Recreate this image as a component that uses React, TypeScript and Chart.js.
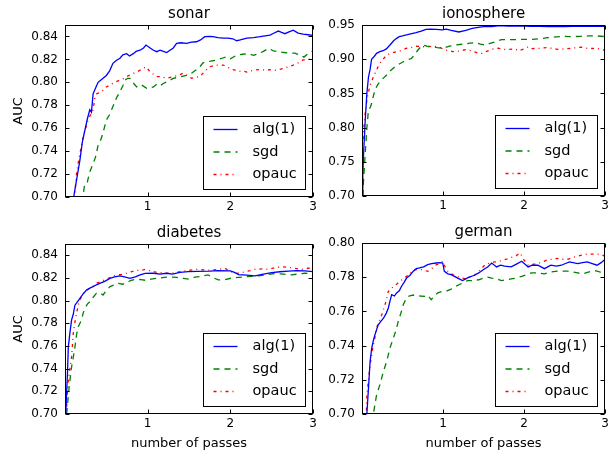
import React, { useEffect, useRef } from "react";
import { Chart, registerables } from "chart.js";
Chart.register(...registerables);

const FONT = "'DejaVu Sans', 'Liberation Sans', sans-serif";

const seriesNames = ["alg(1)", "sgd", "opauc"];
const seriesColors = ["#0000ff", "#008000", "#ff0000"];
const seriesDashes: number[][] = [[], [6, 5], [3, 4, 1, 4]];

const xTicks = [0, 1, 2, 3];
const ticks02 = [0.7, 0.72, 0.74, 0.76, 0.78, 0.8, 0.82, 0.84];
const ticks05 = [0.7, 0.75, 0.8, 0.85, 0.9, 0.95];
const ticksGerman = [0.7, 0.72, 0.74, 0.76, 0.78, 0.8];

const sonarAlg = [[0.10,0.695],[0.11,0.702],[0.14,0.715],[0.18,0.732],[0.21,0.748],[0.24,0.758],[0.27,0.768],[0.30,0.776],[0.32,0.774],[0.34,0.790],[0.37,0.795],[0.40,0.800],[0.45,0.803],[0.50,0.806],[0.54,0.810],[0.58,0.8166],[0.62,0.819],[0.665,0.821],[0.70,0.824],[0.746,0.825],[0.78,0.823],[0.826,0.825],[0.86,0.827],[0.907,0.828],[0.95,0.830],[0.98,0.8325],[1.03,0.830],[1.07,0.828],[1.11,0.8267],[1.15,0.828],[1.19,0.827],[1.23,0.826],[1.27,0.828],[1.31,0.830],[1.35,0.834],[1.40,0.8345],[1.47,0.834],[1.53,0.835],[1.59,0.8354],[1.64,0.837],[1.69,0.8398],[1.75,0.840],[1.79,0.8398],[1.85,0.839],[1.915,0.8385],[1.97,0.8385],[2.03,0.838],[2.077,0.8363],[2.12,0.837],[2.20,0.8385],[2.28,0.839],[2.36,0.8398],[2.42,0.8405],[2.48,0.8412],[2.53,0.843],[2.58,0.8447],[2.62,0.8435],[2.66,0.8424],[2.71,0.844],[2.76,0.8455],[2.82,0.843],[2.88,0.842],[2.94,0.8415],[3.0,0.841]];
const sonarSgd = [[0.21,0.695],[0.22,0.702],[0.24,0.712],[0.27,0.713],[0.30,0.722],[0.34,0.729],[0.37,0.735],[0.40,0.745],[0.42,0.747],[0.46,0.756],[0.50,0.767],[0.54,0.772],[0.58,0.779],[0.62,0.786],[0.665,0.792],[0.70,0.797],[0.726,0.802],[0.76,0.8035],[0.786,0.8035],[0.82,0.800],[0.867,0.796],[0.92,0.798],[0.988,0.7948],[1.03,0.795],[1.07,0.796],[1.11,0.7985],[1.15,0.797],[1.19,0.799],[1.25,0.801],[1.31,0.8035],[1.38,0.8045],[1.47,0.806],[1.53,0.808],[1.59,0.811],[1.63,0.8135],[1.67,0.817],[1.71,0.818],[1.76,0.8185],[1.835,0.8195],[1.90,0.821],[1.956,0.8223],[2.00,0.8205],[2.08,0.8238],[2.15,0.8245],[2.22,0.825],[2.28,0.8235],[2.34,0.825],[2.40,0.827],[2.46,0.8296],[2.52,0.8275],[2.58,0.8267],[2.65,0.826],[2.72,0.8255],[2.78,0.8255],[2.84,0.8238],[2.89,0.822],[2.94,0.825],[3.0,0.8275]];
const sonarOpauc = [[0.11,0.698],[0.12,0.7035],[0.14,0.721],[0.16,0.730],[0.18,0.738],[0.20,0.745],[0.22,0.7526],[0.25,0.760],[0.28,0.767],[0.31,0.772],[0.34,0.776],[0.36,0.786],[0.383,0.790],[0.42,0.791],[0.46,0.793],[0.50,0.796],[0.544,0.7977],[0.60,0.800],[0.665,0.802],[0.70,0.803],[0.746,0.805],[0.80,0.807],[0.867,0.809],[0.92,0.811],[0.98,0.8136],[1.03,0.809],[1.07,0.807],[1.11,0.805],[1.17,0.805],[1.23,0.8035],[1.31,0.805],[1.37,0.806],[1.43,0.808],[1.48,0.806],[1.53,0.8035],[1.58,0.8045],[1.63,0.805],[1.67,0.808],[1.71,0.811],[1.754,0.8136],[1.80,0.8145],[1.835,0.815],[1.915,0.815],[1.97,0.813],[2.036,0.811],[2.10,0.8095],[2.15,0.810],[2.2,0.809],[2.28,0.8105],[2.36,0.8113],[2.42,0.8105],[2.48,0.811],[2.55,0.8105],[2.64,0.812],[2.70,0.8135],[2.76,0.815],[2.82,0.817],[2.88,0.8195],[2.94,0.820],[3.0,0.8209]];

const ionoAlg = [[0.0,0.70],[0.01,0.73],[0.02,0.763],[0.04,0.811],[0.06,0.850],[0.08,0.874],[0.10,0.885],[0.118,0.900],[0.15,0.904],[0.18,0.9086],[0.22,0.911],[0.26,0.9124],[0.30,0.915],[0.345,0.9208],[0.39,0.927],[0.427,0.9305],[0.46,0.933],[0.50,0.934],[0.549,0.9354],[0.60,0.937],[0.667,0.9387],[0.73,0.941],[0.79,0.9437],[0.85,0.944],[0.915,0.9437],[0.99,0.943],[1.04,0.944],[1.10,0.942],[1.195,0.9398],[1.28,0.942],[1.36,0.945],[1.45,0.947],[1.5,0.9475],[1.6,0.9478],[1.7,0.949],[1.8,0.9485],[1.89,0.9488],[2.0,0.9485],[2.09,0.948],[2.2,0.948],[2.29,0.9475],[2.4,0.948],[2.5,0.9478],[2.6,0.948],[2.7,0.9482],[2.8,0.948],[2.9,0.948],[3.0,0.948]];
const ionoSgd = [[0.01,0.70],[0.02,0.725],[0.04,0.762],[0.06,0.800],[0.08,0.826],[0.10,0.829],[0.12,0.8355],[0.14,0.846],[0.16,0.855],[0.19,0.862],[0.22,0.867],[0.26,0.872],[0.305,0.877],[0.35,0.883],[0.406,0.889],[0.46,0.893],[0.51,0.8963],[0.56,0.899],[0.61,0.901],[0.65,0.907],[0.69,0.9134],[0.75,0.921],[0.80,0.919],[0.874,0.918],[0.93,0.917],[1.0,0.916],[1.08,0.919],[1.155,0.9208],[1.25,0.922],[1.33,0.9235],[1.4,0.9242],[1.46,0.922],[1.52,0.9208],[1.6,0.924],[1.66,0.926],[1.72,0.9287],[1.845,0.9285],[1.95,0.929],[2.09,0.929],[2.2,0.930],[2.29,0.9315],[2.4,0.9325],[2.5,0.9335],[2.6,0.933],[2.7,0.9335],[2.8,0.934],[2.9,0.934],[3.0,0.933]];
const ionoOpauc = [[0.0,0.748],[0.01,0.775],[0.02,0.7965],[0.04,0.822],[0.06,0.840],[0.08,0.852],[0.10,0.862],[0.13,0.871],[0.16,0.879],[0.19,0.887],[0.22,0.894],[0.26,0.900],[0.305,0.906],[0.36,0.909],[0.427,0.911],[0.49,0.913],[0.55,0.916],[0.61,0.917],[0.67,0.919],[0.73,0.9185],[0.79,0.918],[0.87,0.919],[0.955,0.918],[1.0,0.9145],[1.05,0.913],[1.12,0.911],[1.2,0.912],[1.28,0.914],[1.36,0.912],[1.44,0.9086],[1.48,0.9086],[1.53,0.911],[1.6,0.9145],[1.68,0.916],[1.77,0.914],[1.89,0.915],[1.93,0.9124],[2.0,0.915],[2.05,0.918],[2.09,0.9155],[2.2,0.916],[2.29,0.917],[2.41,0.9145],[2.5,0.915],[2.58,0.916],[2.66,0.917],[2.7,0.9175],[2.8,0.9155],[2.9,0.916],[2.98,0.9135],[3.0,0.914]];

const diabetesAlg = [[0.01,0.70],[0.02,0.72],[0.03,0.7359],[0.04,0.759],[0.06,0.772],[0.08,0.783],[0.10,0.788],[0.12,0.796],[0.15,0.799],[0.18,0.802],[0.22,0.806],[0.26,0.8094],[0.30,0.811],[0.34,0.8124],[0.38,0.814],[0.42,0.8153],[0.48,0.817],[0.544,0.8197],[0.60,0.821],[0.665,0.8218],[0.72,0.821],[0.786,0.8197],[0.85,0.821],[0.907,0.8227],[0.97,0.824],[1.07,0.8242],[1.15,0.8235],[1.23,0.8242],[1.3,0.8235],[1.39,0.825],[1.49,0.8256],[1.6,0.8258],[1.75,0.826],[1.85,0.8265],[2.0,0.8262],[2.05,0.825],[2.1,0.823],[2.2,0.8225],[2.3,0.8218],[2.4,0.8235],[2.5,0.8247],[2.6,0.8255],[2.7,0.826],[2.8,0.8265],[2.9,0.8262],[3.0,0.8256]];
const diabetesSgd = [[0.02,0.70],[0.05,0.724],[0.08,0.7417],[0.10,0.750],[0.12,0.759],[0.14,0.770],[0.16,0.777],[0.20,0.783],[0.22,0.789],[0.24,0.793],[0.27,0.797],[0.30,0.799],[0.34,0.803],[0.38,0.8065],[0.42,0.807],[0.46,0.805],[0.50,0.809],[0.544,0.8124],[0.60,0.814],[0.645,0.8153],[0.70,0.8145],[0.746,0.816],[0.80,0.818],[0.867,0.8189],[0.92,0.8185],[0.97,0.818],[1.04,0.819],[1.11,0.8197],[1.2,0.8205],[1.27,0.821],[1.35,0.8205],[1.43,0.8197],[1.5,0.819],[1.57,0.8207],[1.65,0.8215],[1.73,0.8227],[1.8,0.820],[1.855,0.8183],[1.93,0.8185],[2.02,0.820],[2.1,0.8205],[2.18,0.821],[2.26,0.8215],[2.34,0.8218],[2.44,0.823],[2.54,0.824],[2.64,0.8235],[2.74,0.8227],[2.82,0.8235],[2.9,0.8242],[3.0,0.824]];
const diabetesOpauc = [[0.02,0.7065],[0.03,0.72],[0.04,0.730],[0.06,0.740],[0.08,0.7506],[0.10,0.7712],[0.12,0.781],[0.14,0.789],[0.16,0.796],[0.18,0.8006],[0.22,0.8065],[0.26,0.809],[0.30,0.811],[0.34,0.813],[0.38,0.8153],[0.44,0.817],[0.50,0.819],[0.56,0.821],[0.625,0.8227],[0.68,0.823],[0.746,0.8242],[0.80,0.8255],[0.867,0.827],[0.92,0.8265],[0.97,0.8277],[1.04,0.826],[1.11,0.825],[1.19,0.8245],[1.27,0.824],[1.35,0.825],[1.43,0.826],[1.52,0.827],[1.61,0.8277],[1.69,0.827],[1.77,0.827],[1.85,0.8275],[1.935,0.8286],[2.0,0.826],[2.06,0.824],[2.12,0.8245],[2.18,0.8256],[2.24,0.8265],[2.30,0.8277],[2.38,0.828],[2.46,0.8277],[2.54,0.829],[2.62,0.830],[2.7,0.8295],[2.78,0.8286],[2.86,0.8275],[2.94,0.8286],[3.0,0.829]];

const germanAlg = [[0.05,0.695],[0.06,0.70],[0.08,0.7152],[0.10,0.7308],[0.12,0.7386],[0.14,0.743],[0.16,0.7464],[0.20,0.7522],[0.23,0.754],[0.265,0.756],[0.30,0.759],[0.325,0.762],[0.345,0.766],[0.366,0.7698],[0.40,0.769],[0.427,0.7708],[0.46,0.772],[0.488,0.7747],[0.52,0.777],[0.55,0.7795],[0.59,0.781],[0.63,0.7834],[0.67,0.785],[0.71,0.7854],[0.76,0.786],[0.81,0.7873],[0.86,0.788],[0.915,0.7883],[0.96,0.7885],[0.996,0.7883],[1.016,0.7834],[1.06,0.782],[1.1,0.7815],[1.14,0.7805],[1.18,0.7795],[1.24,0.778],[1.28,0.779],[1.32,0.780],[1.38,0.781],[1.44,0.7825],[1.5,0.7845],[1.55,0.786],[1.6,0.7883],[1.66,0.786],[1.71,0.787],[1.76,0.7865],[1.84,0.786],[1.9,0.7875],[1.97,0.7893],[2.05,0.786],[2.1,0.787],[2.17,0.787],[2.25,0.785],[2.33,0.787],[2.40,0.7865],[2.46,0.787],[2.51,0.788],[2.56,0.789],[2.66,0.788],[2.72,0.7885],[2.78,0.789],[2.84,0.788],[2.9,0.787],[2.95,0.7885],[3.0,0.7905]];
const germanSgd = [[0.13,0.695],[0.14,0.70],[0.18,0.7113],[0.22,0.717],[0.265,0.725],[0.305,0.7308],[0.345,0.7386],[0.386,0.7444],[0.42,0.749],[0.447,0.7542],[0.48,0.759],[0.51,0.764],[0.54,0.767],[0.57,0.7688],[0.62,0.7695],[0.67,0.7694],[0.72,0.769],[0.77,0.7688],[0.81,0.7695],[0.854,0.7668],[0.89,0.769],[0.935,0.7708],[0.98,0.7715],[1.04,0.7718],[1.1,0.773],[1.16,0.7747],[1.24,0.7766],[1.3,0.778],[1.36,0.778],[1.44,0.7785],[1.5,0.7795],[1.55,0.780],[1.6,0.7795],[1.66,0.779],[1.72,0.778],[1.78,0.7785],[1.84,0.779],[1.9,0.7795],[1.97,0.7805],[2.03,0.7815],[2.09,0.7825],[2.17,0.7825],[2.25,0.782],[2.33,0.783],[2.41,0.7835],[2.48,0.7835],[2.54,0.7835],[2.6,0.783],[2.66,0.7825],[2.72,0.782],[2.78,0.7828],[2.84,0.7835],[2.88,0.7838],[2.94,0.783],[3.0,0.7825]];
const germanOpauc = [[0.05,0.695],[0.06,0.7113],[0.08,0.720],[0.10,0.7288],[0.12,0.735],[0.14,0.7405],[0.16,0.745],[0.18,0.7503],[0.21,0.754],[0.244,0.758],[0.285,0.764],[0.325,0.7717],[0.36,0.773],[0.386,0.7747],[0.43,0.776],[0.467,0.7776],[0.51,0.779],[0.55,0.7805],[0.59,0.782],[0.63,0.7844],[0.69,0.7845],[0.75,0.7844],[0.81,0.7834],[0.86,0.785],[0.915,0.7873],[0.96,0.788],[0.996,0.7893],[1.04,0.7844],[1.08,0.7825],[1.12,0.7815],[1.2,0.780],[1.28,0.779],[1.34,0.780],[1.4,0.7815],[1.44,0.7834],[1.52,0.7873],[1.6,0.7887],[1.66,0.789],[1.72,0.7897],[1.78,0.7905],[1.845,0.7916],[1.9,0.7925],[1.95,0.7942],[2.0,0.790],[2.05,0.787],[2.11,0.7875],[2.17,0.788],[2.23,0.789],[2.29,0.7902],[2.35,0.7905],[2.41,0.791],[2.47,0.7905],[2.54,0.7905],[2.6,0.7915],[2.66,0.7922],[2.72,0.793],[2.78,0.7936],[2.84,0.7935],[2.9,0.7936],[2.96,0.793],[3.0,0.7922]];

type Panel = {
  title: string;
  series: number[][][];
  yMin: number;
  yMax: number;
  yTicks: number[];
  area: { l: number; r: number; t: number; b: number };
  yTitle: boolean;
  xTitle: boolean;
};

const panels: Panel[] = [
  { title: "sonar", series: [sonarAlg, sonarSgd, sonarOpauc], yMin: 0.7, yMax: 0.85, yTicks: ticks02, area: { l: 65, r: 313, t: 25, b: 197 }, yTitle: true, xTitle: false },
  { title: "ionosphere", series: [ionoAlg, ionoSgd, ionoOpauc], yMin: 0.7, yMax: 0.95, yTicks: ticks05, area: { l: 362, r: 608, t: 25, b: 196 }, yTitle: false, xTitle: false },
  { title: "diabetes", series: [diabetesAlg, diabetesSgd, diabetesOpauc], yMin: 0.7, yMax: 0.85, yTicks: ticks02, area: { l: 65, r: 313, t: 244, b: 414 }, yTitle: true, xTitle: true },
  { title: "german", series: [germanAlg, germanSgd, germanOpauc], yMin: 0.7, yMax: 0.8, yTicks: ticksGerman, area: { l: 362, r: 608, t: 243, b: 414 }, yTitle: false, xTitle: true },
];

const W = 612;
const H = 450;
const Y_AXIS_W = 65;

const decorPlugin = {
  id: "decor",
  afterDatasetsDraw(chart: any, _args: any, opts: any) {
    const { ctx, chartArea: a, scales } = chart;
    const L = Math.round(a.left) + 0.5;
    const R = Math.round(a.right) - 0.5;
    const T = Math.round(a.top) + 0.5;
    const B = Math.round(a.bottom) - 0.5;
    ctx.save();
    ctx.strokeStyle = "#000";
    ctx.lineWidth = 1;
    ctx.setLineDash([]);
    ctx.strokeRect(L, T, R - L, B - T);
    ctx.beginPath();
    const tl = 4;
    scales.x.ticks.forEach((t: any) => {
      const px = Math.round(scales.x.getPixelForValue(t.value)) + 0.5;
      ctx.moveTo(px, B);
      ctx.lineTo(px, B - tl);
      ctx.moveTo(px, T);
      ctx.lineTo(px, T + tl);
    });
    scales.y.ticks.forEach((t: any) => {
      const py = Math.round(scales.y.getPixelForValue(t.value)) + 0.5;
      ctx.moveTo(L, py);
      ctx.lineTo(L + tl, py);
      ctx.moveTo(R, py);
      ctx.lineTo(R - tl, py);
    });
    ctx.stroke();

    // title
    ctx.fillStyle = "#000";
    ctx.font = `15px ${FONT}`;
    ctx.textAlign = "center";
    ctx.textBaseline = "middle";
    ctx.fillText(opts.title, (a.left + a.right) / 2, a.top - 11);

    // legend
    const lw = 102;
    const lh = 73;
    const lx = Math.round(a.right - 8 - lw) + 0.5;
    const ly = Math.round(a.bottom - 8 - lh) + 0.5;
    ctx.fillStyle = "#fff";
    ctx.fillRect(lx, ly, lw, lh);
    ctx.strokeStyle = "#000";
    ctx.strokeRect(lx, ly, lw, lh);
    ctx.font = `14.5px ${FONT}`;
    ctx.textAlign = "left";
    chart.data.datasets.forEach((ds: any, i: number) => {
      const ry = ly + 13 + i * 22.5;
      ctx.strokeStyle = ds.borderColor;
      ctx.lineWidth = ds.borderWidth;
      ctx.setLineDash(ds.borderDash || []);
      ctx.beginPath();
      ctx.moveTo(lx + 10, ry);
      ctx.lineTo(lx + 34, ry);
      ctx.stroke();
      ctx.setLineDash([]);
      ctx.fillStyle = "#000";
      ctx.fillText(ds.label, lx + 49, ry);
    });
    ctx.restore();
  },
};

function PanelChart({ p }: { p: Panel }) {
  const ref = useRef<HTMLCanvasElement>(null);
  useEffect(() => {
    if (!ref.current) return;
    const xH = p.xTitle ? H - p.area.b : 20;
    const padding = {
      left: p.area.l - Y_AXIS_W,
      right: W - p.area.r,
      top: p.area.t,
      bottom: H - p.area.b - xH,
    };
    const chart = new Chart(ref.current, {
      type: "line",
      data: {
        datasets: p.series.map((s, i) => ({
          label: seriesNames[i],
          data: s.map(([x, y]) => ({ x, y })),
          borderColor: seriesColors[i],
          backgroundColor: seriesColors[i],
          borderWidth: 1.3,
          borderDash: seriesDashes[i],
          pointRadius: 0,
          tension: 0,
          fill: false,
        })),
      },
      options: {
        animation: false,
        responsive: false,
        devicePixelRatio: 1,
        layout: { padding },
        plugins: {
          legend: { display: false },
          title: { display: false },
          tooltip: { enabled: false },
          decor: { title: p.title },
        } as any,
        scales: {
          x: {
            type: "linear",
            min: 0,
            max: 3,
            grid: { display: false, drawTicks: false },
            border: { display: false },
            afterBuildTicks: (s: any) => {
              s.ticks = xTicks.map((v) => ({ value: v }));
            },
            afterFit: (s: any) => {
              s.height = xH;
            },
            ticks: {
              color: "#000",
              font: { family: FONT, size: 12 },
              padding: 3,
              maxRotation: 0,
              callback: (v: any) => (Number(v) === 0 ? "" : String(v)),
            },
            title: {
              display: p.xTitle,
              text: "number of passes",
              color: "#000",
              font: { family: FONT, size: 13, lineHeight: 1 },
              padding: { top: 0, bottom: 0 },
            },
          },
          y: {
            type: "linear",
            min: p.yMin,
            max: p.yMax,
            grid: { display: false, drawTicks: false },
            border: { display: false },
            afterBuildTicks: (s: any) => {
              s.ticks = p.yTicks.map((v) => ({ value: v }));
            },
            afterFit: (s: any) => {
              s.width = Y_AXIS_W;
            },
            ticks: {
              color: "#000",
              font: { family: FONT, size: 12 },
              padding: 7,
              callback: (v: any) => Number(v).toFixed(2),
            },
            title: {
              display: p.yTitle,
              text: "AUC",
              color: "#000",
              font: { family: FONT, size: 13, lineHeight: 1 },
              padding: { top: 12.5, bottom: 0 },
            },
          },
        },
      },
      plugins: [decorPlugin],
    } as any);
    return () => chart.destroy();
  }, [p]);
  return (
    <canvas
      ref={ref}
      width={W}
      height={H}
      style={{ position: "absolute", left: 0, top: 0, width: W, height: H }}
    />
  );
}

export default function App() {
  return (
    <div
      style={{
        position: "absolute",
        left: 0,
        top: 0,
        width: W,
        height: H,
        background: "#fff",
        overflow: "hidden",
      }}
    >
      {panels.map((p) => (
        <PanelChart key={p.title} p={p} />
      ))}
    </div>
  );
}
